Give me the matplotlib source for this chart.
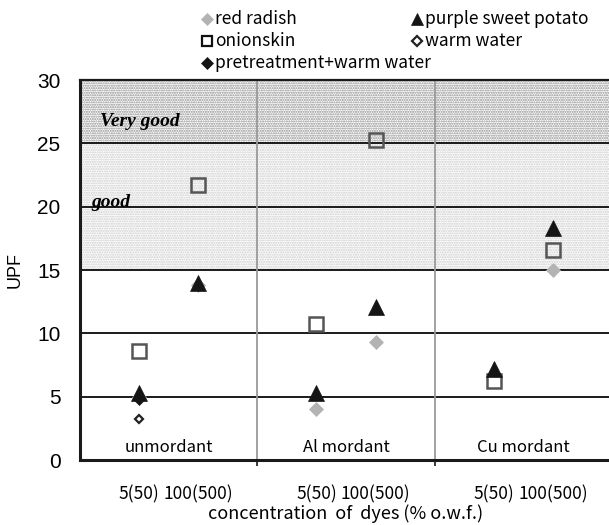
import numpy as np
import matplotlib
matplotlib.use("Agg")
import matplotlib.pyplot as plt

# ---- data -------------------------------------------------------------
groups = ["unmordant", "Al mordant", "Cu mordant"]
concentrations = ["5(50)", "100(500)"]

nan = np.nan
# UPF values, order: (group, concentration) -> 6 points
red_radish = [5.0, 13.8, 4.0, 9.3, nan, 15.0]
onionskin = [8.6, 21.7, 10.7, 25.3, 6.2, 16.6]
purple_sweet_potato = [5.3, 14.0, 5.3, 12.1, 7.2, 18.3]
warm_water = [3.2, nan, nan, nan, nan, nan]
pretreatment_warm_water = [4.8, nan, nan, nan, nan, nan]

yticks = [0, 5, 10, 15, 20, 25, 30]
good_band = (15, 25)
very_good_band = (25, 30)

# ---- layout -----------------------------------------------------------
plt.rcParams["hatch.linewidth"] = 1.0
W, H = 609, 525
fig = plt.figure(figsize=(W / 100, H / 100), dpi=100)
ax = fig.add_axes([80 / W, 65 / H, 532 / W, 380 / H])

jp = ["Noto Sans CJK JP", "DejaVu Sans"]

n_groups = len(groups)
xpos = []
for g in range(n_groups):
    for c in range(len(concentrations)):
        xpos.append(g * 3 + 1 + c)
xpos = np.array(xpos, dtype=float)

ax.set_xlim(0, 3 * n_groups)
ax.set_ylim(0, 30)

# rating bands (stippled)
ax.axhspan(*good_band, facecolor="white", edgecolor="#cbcbcb",
           hatch=".......", linewidth=0, zorder=0)
ax.axhspan(*very_good_band, facecolor="white", edgecolor="#8c8c8c",
           hatch=".......", linewidth=0, zorder=0)

# horizontal grid lines
for y in yticks[1:-1]:
    ax.axhline(y, color="#1a1a1a", lw=1.4, zorder=1)
# group separators
for g in range(1, n_groups):
    ax.axvline(g * 3, color="#9a9a9a", lw=1.3, zorder=1)

# ---- series -----------------------------------------------------------
series = [
    ("red radish", red_radish,
     dict(marker="D", ms=7, mfc="#b3b3b3", mec="#b3b3b3", mew=0.5)),
    ("onionskin", onionskin,
     dict(marker="s", ms=9.5, mfc="none", mec="#555555", mew=1.8)),
    ("purple sweet potato", purple_sweet_potato,
     dict(marker="^", ms=11, mfc="#151515", mec="#151515", mew=0.5)),
    ("warm water", warm_water,
     dict(marker="D", ms=4, mfc="white", mec="#222222", mew=1.6)),
    ("pretreatment+warm water", pretreatment_warm_water,
     dict(marker="D", ms=6, mfc="#151515", mec="#151515", mew=0.5)),
]
for name, vals, st in series:
    ax.plot(xpos, vals, ls="none", zorder=3, **st)

# ---- axes styling -----------------------------------------------------
ax.spines["left"].set_linewidth(2.2)
ax.spines["bottom"].set_linewidth(2.2)
ax.spines["top"].set_linewidth(1.6)
ax.spines["right"].set_visible(False)
for s in ax.spines.values():
    s.set_color("#1a1a1a")
    s.set_zorder(4)

ax.set_yticks(yticks)
ax.set_yticklabels([str(v) for v in yticks], family="Liberation Sans",
                   fontsize=15)
ax.tick_params(axis="y", length=0, pad=14)

ax.set_xticks(xpos)
ax.set_xticklabels(concentrations * n_groups, family=jp, fontsize=12.5)
ax.tick_params(axis="x", length=0, pad=18)
ax.set_xticks([g * 3 for g in range(1, n_groups)], minor=True)
ax.tick_params(axis="x", which="minor", length=4, width=1.2,
               direction="out", color="#1a1a1a")

ax.set_ylabel("UPF", family="Liberation Sans", fontsize=13)
ax.yaxis.set_label_coords(-(80 - 24) / 532, 0.5)
fig.text(0.5 * (80 + 612) / W, 1 - 514 / H,
         "concentration  of  dyes (% o.w.f.)", family=jp, fontsize=13,
         ha="center", va="center")

for g, name in enumerate(groups):
    ax.text(g * 3 + 1.5, 1.0, name, family=jp, fontsize=12,
            ha="center", va="center", zorder=5)

ax.text(0.34, 26.7, "Very good", family="Liberation Serif", fontsize=14,
        fontweight="bold", style="italic", va="center", ha="left", zorder=5)
ax.text(0.2, 20.3, "good", family="Liberation Serif", fontsize=14,
        fontweight="bold", style="italic", va="center", ha="left", zorder=5)

# ---- legend (two columns above the plot) ------------------------------
lax = fig.add_axes([0, 0, 1, 1])
lax.set_xlim(0, W)
lax.set_ylim(H, 0)
lax.axis("off")
legend_slots = [(207, 19), (207, 41), (207, 63), (417, 19), (417, 41)]
legend_order = [0, 1, 4, 2, 3]
for (lx, ly), idx in zip(legend_slots, legend_order):
    name, _, st = series[idx]
    st2 = dict(st)
    st2["ms"] = {"D": 6, "s": 7, "^": 8}[st["marker"]]
    if idx == 3:
        st2["ms"] = 5.5
        st2["mew"] = 1.6
    if idx == 1:
        st2["mew"] = 1.6
        st2["mec"] = "#111111"
    lax.plot([lx], [ly], ls="none", **st2)
    lax.text(lx + 8, ly, name, family=jp, fontsize=12.5, ha="left",
             va="center")

fig.savefig("out.png", dpi=100)
